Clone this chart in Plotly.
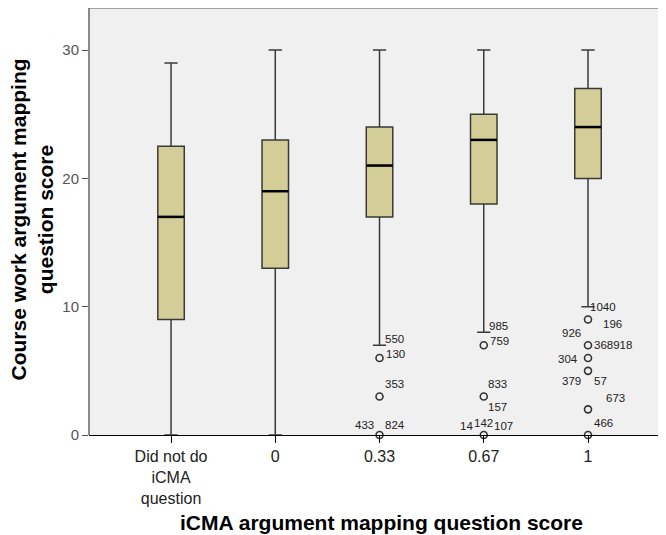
import plotly.graph_objects as go

# ---------------- data ----------------
categories = ["Did not do<br>iCMA<br>question", "0", "0.33", "0.67", "1"]
q1 = [9, 13, 17, 18, 20]
median = [17, 19, 21, 23, 24]
q3 = [22.5, 23, 24, 25, 27]
lower_whisker = [0, 0, 7, 8, 10]
upper_whisker = [29, 30, 30, 30, 30]

outlier_group = [2, 2, 2, 3, 3, 3, 4, 4, 4, 4, 4, 4]
outlier_value = [6, 3, 0, 7, 3, 0, 9, 7, 6, 5, 2, 0]

label_text = ["550", "130", "353", "433", "824",
              "985", "759", "833", "157", "14", "142", "107",
              "1040", "196", "926", "368918", "304", "379", "57", "673", "466"]
label_group = [2, 2, 2, 2, 2,
               3, 3, 3, 3, 3, 3, 3,
               4, 4, 4, 4, 4, 4, 4, 4, 4]
label_value = [7, 6, 3, 0, 0,
               8, 7, 3, 3, 0, 0, 0,
               10, 9, 7, 7, 6, 5, 5, 2, 0]

# ---------------- style ----------------
# (xshift, yshift, xanchor) for each label, in pixels
label_style = [(3.5, 6, "left"), (4, 4, "left"), (3, 12.5, "left"), (-4, 10, "right"), (3, 10, "left"),
               (3, 6, "left"), (4, 4, "left"), (2, 12.5, "left"), (2, -10.5, "left"),
               (-9, 9.5, "right"), (0, 12, "center"), (8, 9.5, "left"),
               (0, 0, "left"), (12.5, -4.5, "left"), (-5, 12, "right"), (4, 0, "left"),
               (-8, -1, "right"), (-5, -10, "right"), (4, -10, "left"), (16, 11.5, "left"), (4, 12, "left")]

BOX_W = 0.254
FILL = "#d3ce98"
EDGE = "#3a3a3a"
FONT = "Arial, Liberation Sans"

fig = go.Figure()

xs = list(range(len(categories)))
fig.add_trace(go.Box(
    x=xs, q1=q1, median=median, q3=q3,
    lowerfence=lower_whisker, upperfence=upper_whisker,
    width=BOX_W, whiskerwidth=0.5,
    fillcolor=FILL, line=dict(color=EDGE, width=1.5),
    boxpoints=False, showlegend=False, hoverinfo="skip",
))

# thick median lines
mx, my = [], []
for i, m in enumerate(median):
    mx += [i - BOX_W / 2, i + BOX_W / 2, None]
    my += [m, m, None]
fig.add_trace(go.Scatter(x=mx, y=my, mode="lines",
                         line=dict(color="black", width=2.5),
                         showlegend=False, hoverinfo="skip"))

# outliers
fig.add_trace(go.Scatter(
    x=outlier_group, y=outlier_value, mode="markers",
    marker=dict(symbol="circle-open", size=7, color="#333333", line=dict(width=1.6)),
    showlegend=False, hoverinfo="skip", cliponaxis=False,
))

annotations = []
for t, g, v, (dx, dy, anc) in zip(label_text, label_group, label_value, label_style):
    annotations.append(dict(
        x=g, y=v, xref="x", yref="y", text=t, showarrow=False,
        xanchor=anc, yanchor="middle", xshift=dx, yshift=dy,
        font=dict(family=FONT, size=11.5, color="#222222"),
    ))

# axis titles
annotations.append(dict(
    x=0, y=0.5, xref="paper", yref="paper", xanchor="center", yanchor="middle",
    xshift=-58, yshift=2, textangle=-90, showarrow=False,
    text="<b>Course work argument mapping<br>question score</b>",
    font=dict(family=FONT, size=21, color="black"),
))
annotations.append(dict(
    x=0.5, y=0, xref="paper", yref="paper", xanchor="center", yanchor="middle",
    yshift=-87, showarrow=False,
    text="<b>iCMA argument mapping question score</b>",
    font=dict(family=FONT, size=21, color="black"),
))

fig.update_layout(
    width=666, height=535,
    margin=dict(l=81, r=0, t=0, b=108, autoexpand=False),
    paper_bgcolor="white", plot_bgcolor="#f0f0f0",
    annotations=annotations,
    font=dict(family=FONT),
    shapes=[
        dict(type="line", xref="paper", yref="paper", x0=0, x1=1, y0=1, y1=1,
             line=dict(color="#888888", width=1.5)),
        dict(type="line", xref="paper", yref="paper", x0=0, x1=0, y0=0, y1=1,
             line=dict(color="#666666", width=1.5)),
    ],
)

fig.update_xaxes(
    range=[-0.787, 4.825], tickmode="array", tickvals=xs, ticktext=categories,
    showgrid=False, zeroline=False, showline=True, linecolor="black", linewidth=1,
    ticks="outside", ticklen=7, tickcolor="black",
    tickfont=dict(size=16, color="#222222"),
)
fig.update_yaxes(
    range=[0, 33.28], tickvals=[0, 10, 20, 30],
    showgrid=False, zeroline=False, showline=False,
    ticks="outside", ticklen=6, tickcolor="#555555",
    tickfont=dict(size=15, color="#555555"),
)

fig.write_html("out.html")
